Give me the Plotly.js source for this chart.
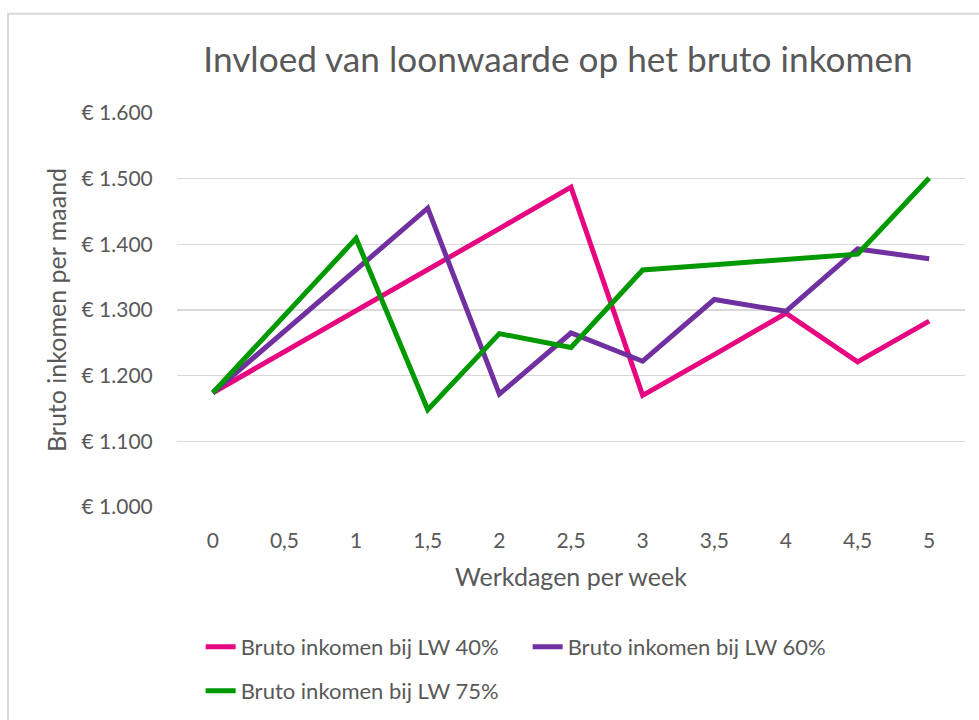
<!DOCTYPE html>
<html>
<head>
<meta charset="utf-8">
<script src="https://cdn.plot.ly/plotly-3.0.1.min.js"></script>
<style>html,body{margin:0;padding:0;background:#fff;}#chart{width:979px;height:720px;}</style>
</head>
<body>
<div id="chart"></div>
<script>
const categories = ["0","0,5","1","1,5","2","2,5","3","3,5","4","4,5","5"];
const lw40 = [1174, 1236, 1298, 1361, 1424, 1487, 1170, 1232, 1295, 1221, 1283];
const lw60 = [1174, 1268, 1361, 1455, 1172, 1265, 1222, 1316, 1298, 1393, 1378];
const lw75 = [1174, 1291, 1409, 1148, 1264, 1243, 1361, 1369, 1377, 1385, 1501];
const yTicks = [1000, 1100, 1200, 1300, 1400, 1500, 1600];
const yTickText = ["€ 1.000","€ 1.100","€ 1.200","€ 1.300","€ 1.400","€ 1.500","€ 1.600"];
const seriesNames = ["Bruto inkomen bij LW 40%","Bruto inkomen bij LW 60%","Bruto inkomen bij LW 75%"];

const font = "Lato, 'Open Sans', sans-serif";
const txt = "#595959";
const mk = (y, name, color, leg) => ({
  x: categories, y: y, name: name, type: "scatter", mode: "lines",
  line: {color: color, width: 5}, legend: leg
});
const data = [
  mk(lw40, seriesNames[0], "#E6067F", "legend"),
  mk(lw60, seriesNames[1], "#7030A0", "legend"),
  mk(lw75, seriesNames[2], "#009900", "legend2")
];
const legCommon = {orientation: "h", xanchor: "left", yanchor: "middle",
  entrywidth: 282, entrywidthmode: "pixels", font: {size: 22, color: txt},
  bgcolor: "rgba(0,0,0,0)", traceorder: "normal"};
const layout = {
  width: 979, height: 720,
  margin: {l: 177, r: 14, t: 113, b: 212.5, autoexpand: false},
  paper_bgcolor: "#fff", plot_bgcolor: "#fff",
  font: {family: font, color: txt, size: 21},
  title: {text: "Invloed van loonwaarde op het bruto inkomen", font: {size: 35.2, color: txt, family: font},
          x: 0.4835, xref: "paper", xanchor: "center", y: 0.917, yref: "container", yanchor: "middle"},
  xaxis: {type: "category", range: [-0.5, 10.5], showgrid: false, zeroline: false, showline: false,
          ticks: "outside", ticklen: 15, tickcolor: "rgba(0,0,0,0)",
          tickfont: {size: 21, color: txt},
          title: {text: "Werkdagen per week", font: {size: 25, color: txt}, standoff: 17}},
  yaxis: {range: [1000, 1600], tickvals: yTicks, ticktext: yTickText, showgrid: true,
          gridcolor: "#D9D9D9", gridwidth: 1.5, zeroline: false, showline: false,
          ticks: "outside", ticklen: 19, tickcolor: "rgba(0,0,0,0)",
          tickfont: {size: 21, color: txt},
          title: {text: "Bruto inkomen per maand", font: {size: 25, color: txt}, standoff: 7}},
  showlegend: true,
  legend: Object.assign({}, legCommon, {x: 0.03, y: -0.355}),
  legend2: Object.assign({}, legCommon, {x: 0.03, y: -0.467}),
  shapes: [{type: "rect", xref: "paper", yref: "paper",
            x0: -0.2145, x1: 1.2, y0: 1.2519, y1: -0.6,
            line: {color: "#D9D9D9", width: 2}, layer: "below"}]
};
Plotly.newPlot("chart", data, layout, {displayModeBar: false, staticPlot: true});
</script>
</body>
</html>
